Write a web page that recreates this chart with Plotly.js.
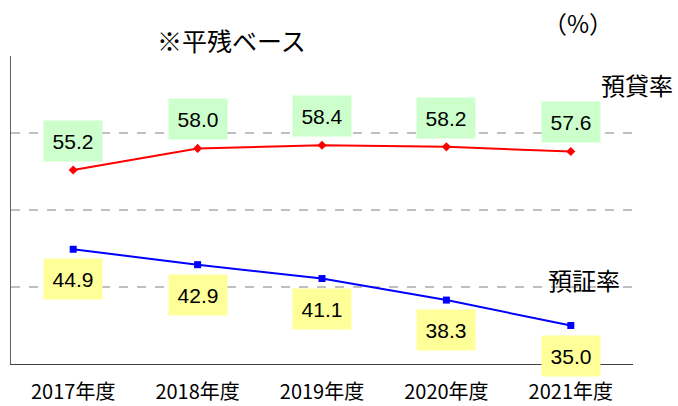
<!DOCTYPE html>
<html>
<head>
<meta charset="utf-8">
<script src="https://cdn.plot.ly/plotly-3.0.1.min.js"></script>
<style>html,body{margin:0;padding:0;background:#fff;}#chart{width:678px;height:406px;}</style>
</head>
<body>
<div id="chart"></div>
<script>
const categories = ['2017年度', '2018年度', '2019年度', '2020年度', '2021年度'];
const loanRatio = [55.2, 58.0, 58.4, 58.2, 57.6];      // 預貸率
const securitiesRatio = [44.9, 42.9, 41.1, 38.3, 35.0]; // 預証率

const FONT = '"Noto Sans CJK JP", "Liberation Sans", Arial, sans-serif';
const NUMFONT = '"Liberation Sans", Arial, sans-serif';

const traces = [
  {
    x: categories, y: loanRatio, type: 'scatter', mode: 'lines+markers',
    line: {color: '#ff0000', width: 2},
    marker: {symbol: 'diamond', size: 7, color: '#ff0000'},
    hoverinfo: 'skip'
  },
  {
    x: categories, y: securitiesRatio, type: 'scatter', mode: 'lines+markers',
    line: {color: '#0000ff', width: 2},
    marker: {symbol: 'square', size: 7, color: '#0000ff'},
    hoverinfo: 'skip'
  }
];

const annotations = [];
categories.forEach((c, i) => {
  annotations.push({
    x: c, y: loanRatio[i], xref: 'x', yref: 'y', yshift: 29,
    text: loanRatio[i].toFixed(1), showarrow: false,
    bgcolor: '#ccffcc', width: 56, height: 38,
    font: {family: NUMFONT, size: 21, color: '#000'}
  });
  annotations.push({
    x: c, y: securitiesRatio[i], xref: 'x', yref: 'y', yshift: -30,
    text: securitiesRatio[i].toFixed(1), showarrow: false,
    bgcolor: '#ffff99', width: 56, height: 38,
    font: {family: NUMFONT, size: 21, color: '#000'}
  });
});
annotations.push(
  {xref: 'paper', yref: 'paper', x: 0.355, y: 1.052, xanchor: 'center', yanchor: 'middle',
   text: '※平残ベース', showarrow: false, font: {family: FONT, size: 25, color: '#000'}},
  {xref: 'paper', yref: 'paper', x: 0.912, y: 1.11, xanchor: 'center', yanchor: 'middle',
   text: '（%）', showarrow: false, font: {family: FONT, size: 24, color: '#000'}},
  {xref: 'paper', yref: 'paper', x: 1.007, y: 0.906, xanchor: 'center', yanchor: 'middle',
   text: '預貸率', showarrow: false, font: {family: FONT, size: 24, color: '#000'}},
  {xref: 'paper', yref: 'paper', x: 0.922, y: 0.273, xanchor: 'center', yanchor: 'middle',
   text: '預証率', showarrow: false, font: {family: FONT, size: 24, color: '#000'}}
);

const layout = {
  width: 678, height: 406,
  margin: {l: 11, r: 45, t: 56, b: 42},
  paper_bgcolor: '#ffffff', plot_bgcolor: '#ffffff',
  showlegend: false,
  font: {family: FONT, color: '#000'},
  xaxis: {
    type: 'category', range: [-0.5, 4.5],
    showgrid: false, zeroline: false,
    showline: true, linecolor: '#404040', linewidth: 1,
    ticks: '', ticklabelstandoff: 10,
    tickfont: {family: FONT, size: 20, color: '#000'},
    fixedrange: true
  },
  yaxis: {
    range: [30, 70], dtick: 10, tick0: 30,
    showticklabels: false, ticks: '',
    showgrid: true, gridcolor: '#bfbfbf', griddash: 'dash', gridwidth: 2,
    zeroline: false,
    showline: true, linecolor: '#606060', linewidth: 1,
    fixedrange: true
  },
  annotations: annotations
};

Plotly.newPlot('chart', traces, layout, {displayModeBar: false, staticPlot: true});
</script>
</body>
</html>
